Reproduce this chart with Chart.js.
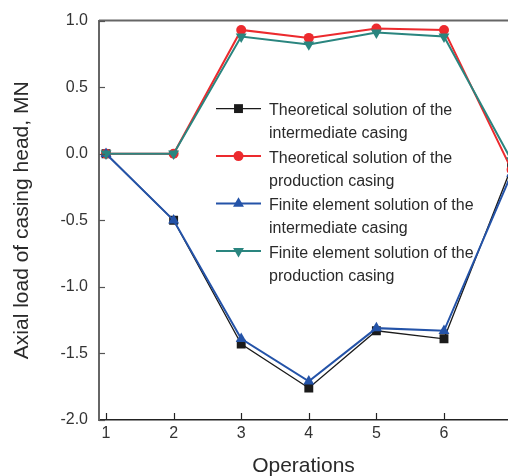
<!DOCTYPE html>
<html>
<head>
<meta charset="utf-8">
<script src="https://cdn.jsdelivr.net/npm/chart.js@4/dist/chart.umd.min.js"></script>
<style>
  html, body { margin: 0; padding: 0; background: #fff; overflow: hidden; }
  #wrap { width: 508px; height: 476px; position: relative; }
</style>
</head>
<body>
<div id="wrap"><canvas id="c" width="508" height="476"></canvas></div>
<script>
//  DATA
var operations = [1, 2, 3, 4, 5, 6, 7];
var theoIntermediate = [0, -0.5, -1.43, -1.76, -1.33, -1.39, -0.1];
var theoProduction = [0, 0, 0.93, 0.87, 0.94, 0.93, -0.12];
var feIntermediate = [0, -0.5, -1.39, -1.71, -1.31, -1.33, -0.15];
var feProduction = [0, 0, 0.88, 0.82, 0.91, 0.88, -0.05];

var yTicks = [-2.0, -1.5, -1.0, -0.5, 0.0, 0.5, 1.0];

var legendLabels = [
  ["Theoretical solution of the", "intermediate casing"],
  ["Theoretical solution of the", "production casing"],
  ["Finite element solution of the", "intermediate casing"],
  ["Finite element solution of the", "production casing"]
];

var FONT = "'Liberation Sans', Arial, sans-serif";

//  HELPERS
function toPoints(values) {
  var pts = [];
  for (var i = 0; i < values.length; i++) {
    pts.push({ x: operations[i], y: values[i] });
  }
  return pts;
}

function series(label, values, color, style, radius, width, order, rot) {
  return {
    label: label,
    data: toPoints(values),
    borderColor: color,
    backgroundColor: color,
    borderWidth: width,
    pointStyle: style,
    pointRadius: radius,
    pointBorderWidth: 0,
    pointRotation: rot || 0,
    order: order,
    tension: 0
  };
}

var datasets = [
  series(legendLabels[0].join(" "), theoIntermediate, "#1b1b1b", "rect", 6.3, 1.3, 4),
  series(legendLabels[1].join(" "), theoProduction, "#ec2a2e", "circle", 5, 2, 3),
  series(legendLabels[2].join(" "), feIntermediate, "#2453a8", "triangle", 6.3, 2, 2),
  series(legendLabels[3].join(" "), feProduction, "#2a857f", "triangle", 6.3, 2, 1, 180)
];

//  PLUGIN: inward ticks, top frame, legend
var decor = {
  id: "decor",
  afterDraw: function (chart) {
    var ctx = chart.ctx;
    var a = chart.chartArea;
    var x = chart.scales.x;
    var y = chart.scales.y;
    ctx.save();

    // top frame
    ctx.strokeStyle = "#666";
    ctx.lineWidth = 2;
    ctx.beginPath();
    ctx.moveTo(a.left, a.top);
    ctx.lineTo(a.right, a.top);
    ctx.stroke();

    // y ticks inward
    ctx.lineWidth = 1.2;
    ctx.strokeStyle = "#555";
    for (var i = 0; i < y.ticks.length; i++) {
      var py = Math.round(y.getPixelForValue(y.ticks[i].value)) + 0.5;
      ctx.beginPath();
      ctx.moveTo(a.left, py);
      ctx.lineTo(a.left + 6, py);
      ctx.stroke();
    }

    // x ticks inward
    ctx.strokeStyle = "#222";
    for (var j = 0; j < x.ticks.length; j++) {
      var v = x.ticks[j].value;
      if (v < x.min || v > x.max) continue;
      var px = Math.round(x.getPixelForValue(v)) + 0.5;
      ctx.beginPath();
      ctx.moveTo(px, a.bottom);
      ctx.lineTo(px, a.bottom - 7);
      ctx.stroke();
    }

    // legend
    var lx = a.left + 117;
    var ly = a.top + 88;
    ctx.font = "16px " + FONT;
    ctx.textBaseline = "middle";
    ctx.textAlign = "left";
    for (var k = 0; k < datasets.length; k++) {
      var ds = datasets[k];
      var cy = ly + k * 47.5;
      ctx.strokeStyle = ds.borderColor;
      ctx.lineWidth = ds.borderWidth;
      ctx.beginPath();
      ctx.moveTo(lx, cy);
      ctx.lineTo(lx + 45, cy);
      ctx.stroke();
      ctx.fillStyle = ds.backgroundColor;
      Chart.helpers.drawPoint(ctx, {
        pointStyle: ds.pointStyle,
        radius: ds.pointRadius,
        rotation: ds.pointRotation,
        borderWidth: 0
      }, lx + 22.5, cy);
      ctx.fillStyle = "#2a2a2a";
      ctx.fillText(legendLabels[k][0], lx + 53, cy + 2);
      ctx.fillText(legendLabels[k][1], lx + 53, cy + 25);
    }
    ctx.restore();
  }
};

//  CHART
new Chart(document.getElementById("c"), {
  type: "line",
  data: { datasets: datasets },
  plugins: [decor],
  options: {
    responsive: false,
    animation: false,
    layout: { autoPadding: false, padding: { top: 20, right: 0, bottom: 0, left: 0 } },
    plugins: { legend: { display: false }, tooltip: { enabled: false } },
    scales: {
      x: {
        type: "linear",
        min: 0.896,
        max: 6.947,
        grid: { display: true, drawOnChartArea: false, drawTicks: false },
        border: { color: "#222", width: 1.5 },
        afterBuildTicks: function (s) {
          s.ticks = operations.map(function (v) { return { value: v }; });
        },
        afterFit: function (s) {
          s.height = 56;
          s.paddingLeft = 0;
          s.paddingRight = 0;
        },
        ticks: {
          color: "#333",
          padding: 4,
          maxRotation: 0,
          autoSkip: false,
          font: { family: FONT, size: 16 },
          callback: function (v) { return String(v); }
        },
        title: {
          display: true,
          text: "Operations",
          color: "#2a2a2a",
          font: { family: FONT, size: 21, lineHeight: 1 },
          padding: { top: 0, bottom: -1 }
        }
      },
      y: {
        min: -2,
        max: 1,
        grid: { display: true, drawOnChartArea: false, drawTicks: false },
        border: { color: "#666", width: 2 },
        afterBuildTicks: function (s) {
          s.ticks = yTicks.map(function (v) { return { value: v }; });
        },
        afterFit: function (s) {
          s.width = 99;
        },
        ticks: {
          color: "#333",
          padding: 11,
          font: { family: FONT, size: 16 },
          callback: function (v) { return Number(v).toFixed(1); }
        },
        title: {
          display: true,
          text: "Axial load of casing head, MN",
          color: "#2a2a2a",
          font: { family: FONT, size: 21, lineHeight: 1.2 },
          padding: { top: 10, bottom: 0 }
        }
      }
    }
  }
});
</script>
</body>
</html>
